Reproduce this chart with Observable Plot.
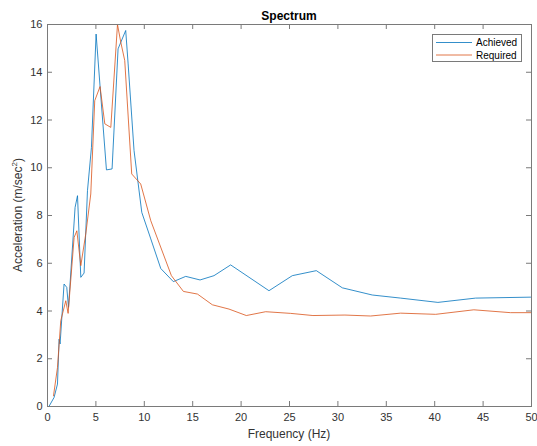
<!DOCTYPE html>
<html>
<head>
<meta charset="utf-8">
<script src="https://cdn.jsdelivr.net/npm/d3@7"></script>
<script src="https://cdn.jsdelivr.net/npm/@observablehq/plot@0.6"></script>
<style>
  html, body { margin: 0; padding: 0; background: white; }
  #chart svg { display: block; }
</style>
</head>
<body>
<div id="chart"></div>
<script>
// ---- data ----
const achievedFreq = [0.15, 0.68, 1.03, 1.2, 1.3, 1.71, 1.99, 2.17, 2.85, 3.1, 3.44, 3.78, 4.13, 4.54, 5.02, 5.45, 6.09, 6.67, 7.29, 8.08, 8.33, 8.94, 9.74, 10.67, 11.7, 13.0, 14.28, 15.76, 17.2, 18.92, 22.88, 25.29, 27.77, 30.46, 33.55, 36.48, 40.33, 44.22, 49.9];
const achievedValue = [0.0, 0.38, 0.94, 2.82, 2.62, 5.13, 4.99, 4.15, 8.34, 8.83, 5.41, 5.59, 9.04, 10.85, 15.6, 13.3, 9.91, 9.95, 14.98, 15.75, 14.35, 10.72, 8.13, 7.02, 5.78, 5.23, 5.45, 5.3, 5.48, 5.93, 4.85, 5.48, 5.69, 4.97, 4.67, 4.54, 4.36, 4.54, 4.58];

const requiredFreq = [0.62, 1.03, 1.37, 1.89, 2.13, 2.75, 3.03, 3.44, 3.95, 4.47, 4.88, 5.43, 5.92, 6.54, 7.23, 7.57, 7.98, 8.7, 9.63, 10.67, 12.8, 14.04, 15.49, 17.03, 18.75, 20.54, 22.54, 25.12, 27.42, 30.73, 33.38, 36.48, 40.1, 44.04, 47.83, 50];
const requiredValue = [0.45, 1.63, 3.59, 4.43, 3.9, 7.08, 7.36, 5.9, 7.22, 8.9, 12.81, 13.4, 11.84, 11.69, 16.0, 15.26, 14.49, 9.74, 9.32, 7.78, 5.48, 4.82, 4.71, 4.26, 4.08, 3.81, 3.97, 3.9, 3.81, 3.83, 3.79, 3.91, 3.86, 4.05, 3.93, 3.93];

const xTicks = [0, 5, 10, 15, 20, 25, 30, 35, 40, 45, 50];
const yTicks = [0, 2, 4, 6, 8, 10, 12, 14, 16];
const seriesNames = ["Achieved", "Required"];
const seriesColors = ["#0072BD", "#D95319"];
const titleText = "Spectrum";
const xLabel = "Frequency (Hz)";
const yLabelBase = "Acceleration (m/sec";
const yLabelSup = "2";

// ---- build tables ----
const achieved = achievedFreq.map((f, i) => ({f, v: achievedValue[i]}));
const required = requiredFreq.map((f, i) => ({f, v: requiredValue[i]}));

const W = 537, H = 446;
const mL = 47, mR = 6, mT = 24, mB = 40;
const plotW = W - mL - mR, plotH = H - mT - mB;
const tickLen = 5;
const axisColor = "#333333";
const frameColor = "#7a7a7a";
const font = "'Liberation Sans', Arial, Helvetica, sans-serif";

const chart = Plot.plot({
  width: W,
  height: H,
  marginLeft: mL,
  marginRight: mR,
  marginTop: mT,
  marginBottom: mB,
  style: {fontFamily: font, fontSize: "11px", color: axisColor, background: "white"},
  x: {domain: [0, 50]},
  y: {domain: [0, 16]},
  marks: [
    Plot.axisX(xTicks, {tickSize: 0, tickPadding: 7, label: null, fill: axisColor}),
    Plot.axisY(yTicks, {tickSize: 0, tickPadding: 5, label: null, fill: axisColor}),
    Plot.tickX(xTicks, {x: d => d, insetTop: plotH - tickLen, stroke: frameColor}),
    Plot.tickX(xTicks, {x: d => d, insetBottom: plotH - tickLen, stroke: frameColor}),
    Plot.tickY(yTicks, {y: d => d, insetRight: plotW - tickLen, stroke: frameColor}),
    Plot.tickY(yTicks, {y: d => d, insetLeft: plotW - tickLen, stroke: frameColor}),
    Plot.line(achieved, {x: "f", y: "v", stroke: seriesColors[0], strokeWidth: 0.8, clip: true}),
    Plot.line(required, {x: "f", y: "v", stroke: seriesColors[1], strokeWidth: 0.8, clip: true}),
    Plot.frame({stroke: frameColor, strokeWidth: 1})
  ]
});

document.getElementById("chart").appendChild(chart);

const svg = d3.select(chart);

// title
svg.append("text")
  .attr("x", mL + plotW / 2)
  .attr("y", 20)
  .attr("text-anchor", "middle")
  .attr("font-family", font)
  .attr("font-size", 12)
  .attr("font-weight", "bold")
  .attr("fill", "#000")
  .text(titleText);

// x label
svg.append("text")
  .attr("x", mL + plotW / 2)
  .attr("y", 438)
  .attr("text-anchor", "middle")
  .attr("font-family", font)
  .attr("font-size", 12)
  .attr("fill", axisColor)
  .text(xLabel);

// y label with superscript
const yl = svg.append("text")
  .attr("transform", `translate(22,${mT + plotH / 2}) rotate(-90)`)
  .attr("text-anchor", "middle")
  .attr("font-family", font)
  .attr("font-size", 12)
  .attr("fill", axisColor);
yl.append("tspan").text(yLabelBase);
yl.append("tspan").attr("font-size", 8).attr("dy", -5).text(yLabelSup);
yl.append("tspan").attr("dy", 5).text(")");

// legend
const lg = svg.append("g");
lg.append("rect")
  .attr("x", 432.5).attr("y", 34.5)
  .attr("width", 89).attr("height", 27)
  .attr("fill", "white").attr("stroke", frameColor).attr("stroke-width", 1);
seriesNames.forEach((name, i) => {
  const yy = 42.5 + i * 12.5;
  lg.append("line")
    .attr("x1", 436).attr("x2", 472)
    .attr("y1", yy).attr("y2", yy)
    .attr("stroke", seriesColors[i]).attr("stroke-width", 0.8);
  lg.append("text")
    .attr("x", 476).attr("y", yy + 3.5)
    .attr("text-anchor", "start")
    .attr("font-family", font)
    .attr("font-size", 10)
    .attr("fill", "#000")
    .text(name);
});
</script>
</body>
</html>
